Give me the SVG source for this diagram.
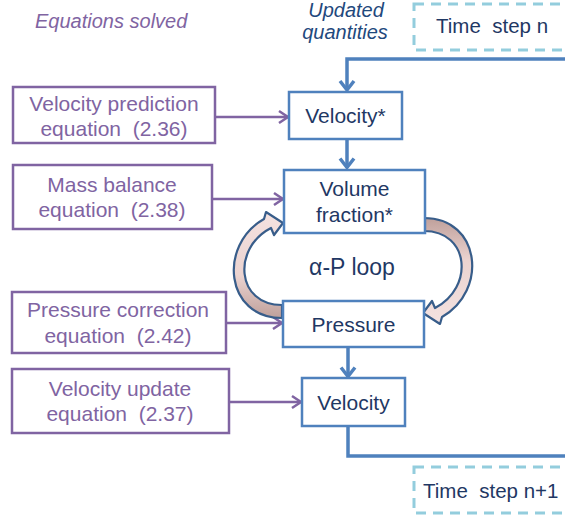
<svg xmlns="http://www.w3.org/2000/svg" width="565" height="519" viewBox="0 0 565 519">
<style>
.bbox{fill:#fff;stroke:#4F81BD;stroke-width:2.5}
.pbox{fill:#fff;stroke:#8064A2;stroke-width:2.5}
.dbox{fill:none;stroke:#93CDDD;stroke-width:3;stroke-dasharray:10 7}
.bt{font-family:"Liberation Sans",Arial,sans-serif;font-size:21px;fill:#1F3864;text-anchor:middle}
.lp{font-size:23px}
.pt{font-family:"Liberation Sans",Arial,sans-serif;font-size:21px;fill:#8064A2;text-anchor:middle;white-space:pre}
.ts{font-family:"Liberation Sans",Arial,sans-serif;font-size:20.5px;fill:#1F3864;white-space:pre}
.hd{font-family:"Liberation Sans",Arial,sans-serif;font-size:20px;font-style:italic}
.bl{fill:none;stroke:#4F81BD;stroke-width:3.5}
.pl{fill:none;stroke:#8064A2;stroke-width:2.5}
.cv{stroke:#385D8A;stroke-width:2.2;stroke-linejoin:round}
</style>
<defs>
<marker id="ba" markerUnits="userSpaceOnUse" viewBox="-12 -8 14 16" refX="0" refY="0" markerWidth="14" markerHeight="16" orient="auto" overflow="visible">
<path d="M-9,-7 L0,0 L-9,7" fill="none" stroke="#4F81BD" stroke-width="3.5"/>
</marker>
<marker id="pa" markerUnits="userSpaceOnUse" viewBox="-12 -8 14 16" refX="0" refY="0" markerWidth="14" markerHeight="16" orient="auto" overflow="visible">
<path d="M-9,-6 L0,0 L-9,6" fill="none" stroke="#8064A2" stroke-width="2.5"/>
</marker>
<linearGradient id="cg" x1="0" y1="0" x2="0" y2="1">
<stop offset="0" stop-color="#F4E2E0"/>
<stop offset="0.6" stop-color="#EBD3D0"/>
<stop offset="1" stop-color="#BFA09B"/>
</linearGradient>
</defs>

<g id="headers">
<text class="hd" x="35" y="28" fill="#8064A2">Equations solved</text>
<text class="hd" x="346" y="17" fill="#1F497D" text-anchor="middle">Updated</text>
<text class="hd" x="345" y="39" fill="#1F497D" text-anchor="middle">quantities</text>
</g>

<g id="timestep-n">
<rect class="dbox" x="414" y="4" width="170" height="46"/>
<text class="ts" x="436" y="33">Time  step n</text>
</g>
<g id="timestep-n1">
<rect class="dbox" x="414" y="467" width="170" height="46"/>
<text class="ts" x="423" y="498">Time  step n+1</text>
</g>

<g id="connectors">
<path class="bl" d="M565,59 L347,59 L347,90" marker-end="url(#ba)"/>
<path class="bl" d="M347,139 L347,167.5" marker-end="url(#ba)"/>
<path class="bl" d="M348,347 L348,376.5" marker-end="url(#ba)"/>
<path class="bl" d="M348,426 L348,456 L565,456"/>
<path class="pl" d="M215,117 L288,117" marker-end="url(#pa)"/>
<path class="pl" d="M212,199 L283,199" marker-end="url(#pa)"/>
<path class="pl" d="M226,323 L282,323" marker-end="url(#pa)"/>
<path class="pl" d="M229,402 L301,402" marker-end="url(#pa)"/>
<path id="loop-left" class="cv" fill="url(#cg)" d="M282,305 L282,318 C225,318 218,245 264,219 L266,212 L283,223 L274,235 L271,228 C232,248 236,305 282,305 Z"/>
<path id="loop-right" class="cv" fill="url(#cg)" transform="rotate(180 353 268)" d="M282,305 L282,318 C225,318 218,245 264,219 L266,212 L283,223 L274,235 L271,228 C232,248 236,305 282,305 Z"/>
</g>

<g id="eq-velocity-prediction">
<rect class="pbox" x="13" y="87" width="202" height="56"/>
<text class="pt" x="114" y="111">Velocity prediction</text>
<text class="pt" x="114" y="136">equation  (2.36)</text>
</g>
<g id="eq-mass-balance">
<rect class="pbox" x="13" y="165" width="199" height="64"/>
<text class="pt" x="112" y="192">Mass balance</text>
<text class="pt" x="112" y="217">equation  (2.38)</text>
</g>
<g id="eq-pressure-correction">
<rect class="pbox" x="12" y="292" width="214" height="61"/>
<text class="pt" x="118" y="317">Pressure correction</text>
<text class="pt" x="118" y="343">equation  (2.42)</text>
</g>
<g id="eq-velocity-update">
<rect class="pbox" x="12" y="369" width="217" height="64"/>
<text class="pt" x="120" y="396">Velocity update</text>
<text class="pt" x="120" y="421">equation  (2.37)</text>
</g>

<g id="velocity-star">
<rect class="bbox" x="289" y="92" width="113" height="47"/>
<text class="bt" x="345.5" y="123">Velocity*</text>
</g>
<g id="volume-fraction">
<rect class="bbox" x="284" y="170" width="141" height="63"/>
<text class="bt" x="354.5" y="196">Volume</text>
<text class="bt" x="354.5" y="222">fraction*</text>
</g>
<g id="ap-loop">
<text class="bt lp" x="352" y="275">α-P loop</text>
</g>
<g id="pressure">
<rect class="bbox" x="283" y="301" width="141" height="46"/>
<text class="bt" x="353.5" y="332">Pressure</text>
</g>
<g id="velocity">
<rect class="bbox" x="302" y="378" width="103" height="48"/>
<text class="bt" x="353.5" y="410">Velocity</text>
</g>
</svg>
